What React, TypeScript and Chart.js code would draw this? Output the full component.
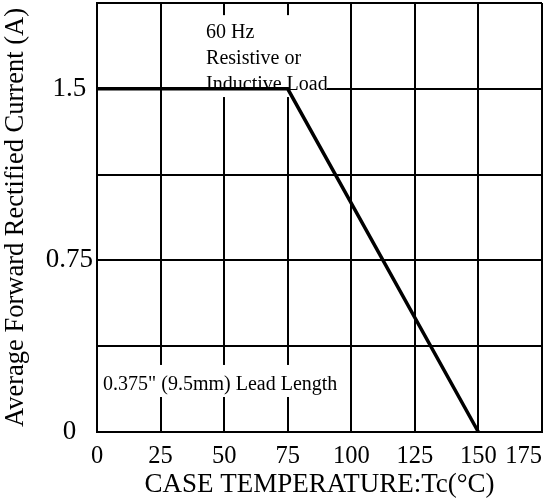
import React, { useEffect, useRef } from 'react';
import { Chart, registerables } from 'chart.js';

Chart.register(...registerables);

const FONT = '"Liberation Serif", "Times New Roman", Times, serif';

// data
const temperatures = [0, 75, 150];
const currents = [1.5, 1.5, 0];
const yLabelValues = [0, 0.75, 1.5];
const xTitle = 'CASE TEMPERATURE:Tc(°C)';
const yTitle = 'Average Forward Rectified Current (A)';
const noteTopLines = ['60 Hz', 'Resistive or', 'Inductive Load'];
const noteBottomLines = ['0.375" (9.5mm) Lead Length'];

// annotation placement (data units) — box: [xmin, xmax, ytop, ybottom], at: [x, firstBaseline]
const notes = [
  { lines: noteTopLines, box: [40.5, 90.4, 1.822, 1.464], at: [42.9, 1.722], lineHeight: 26 },
  { lines: noteBottomLines, box: [1.2, 98.3, 0.293, 0.153], at: [2.4, 0.184], lineHeight: 26 },
];

export default function App() {
  const ref = useRef<HTMLCanvasElement>(null);

  useEffect(() => {
    if (!ref.current) return;

    const notesPlugin = {
      id: 'notes',
      beforeDatasetsDraw(chart: any) {
        const { ctx } = chart;
        const x = chart.scales.x;
        const y = chart.scales.y;
        for (const n of notes) {
          const x0 = x.getPixelForValue(n.box[0]);
          const x1 = x.getPixelForValue(n.box[1]);
          const y0 = y.getPixelForValue(n.box[2]);
          const y1 = y.getPixelForValue(n.box[3]);
          ctx.save();
          ctx.fillStyle = '#ffffff';
          ctx.fillRect(x0, y0, x1 - x0, y1 - y0);
          ctx.fillStyle = '#000000';
          ctx.font = `20px ${FONT}`;
          ctx.textAlign = 'left';
          ctx.textBaseline = 'alphabetic';
          const tx = x.getPixelForValue(n.at[0]);
          const ty = y.getPixelForValue(n.at[1]);
          n.lines.forEach((l, i) => ctx.fillText(l, tx, ty + i * n.lineHeight));
          ctx.restore();
        }
      },
    };

    const lastLabelPlugin = {
      id: 'lastLabelAlign',
      beforeDraw(chart: any) {
        const sx = chart.scales.x;
        const items = sx.getLabelItems(chart.chartArea);
        const last = items[items.length - 1];
        if (last) last.options.textAlign = 'right';
      },
    };

    const chart = new Chart(ref.current, {
      type: 'line',
      data: {
        datasets: [
          {
            data: temperatures.map((t, i) => ({ x: t, y: currents[i] })),
            borderColor: '#000000',
            borderWidth: 3.5,
            pointRadius: 0,
            tension: 0,
            fill: false,
            borderJoinStyle: 'miter',
          },
        ],
      },
      options: {
        animation: false,
        responsive: true,
        maintainAspectRatio: false,
        layout: { padding: { top: 3, right: 13, left: 0, bottom: 0 } },
        plugins: {
          legend: { display: false },
          tooltip: { enabled: false },
        },
        scales: {
          x: {
            type: 'linear',
            min: 0,
            max: 175,
            ticks: {
              stepSize: 25,
              autoSkip: false,
              maxRotation: 0,
              color: '#000000',
              padding: 10,
              font: { family: FONT, size: 24.5 },
            },
            grid: { color: '#000000', lineWidth: 2, drawTicks: false },
            border: { display: true, color: '#000000', width: 2 },
            title: {
              display: true,
              text: xTitle,
              color: '#000000',
              font: { family: FONT, size: 27 },
              padding: { top: 0, bottom: 2 },
            },
            afterFit: (s: any) => {
              s.height = 71;
              s.paddingLeft = 0;
              s.paddingRight = 0;
            },
          },
          y: {
            type: 'linear',
            min: 0,
            max: 1.875,
            ticks: {
              stepSize: 0.375,
              autoSkip: false,
              color: '#000000',
              padding: 4,
              crossAlign: 'center',
              font: { family: FONT, size: 27 },
              callback: (v: any) => (yLabelValues.includes(Number(v)) ? String(v) : ''),
            },
            grid: { color: '#000000', lineWidth: 2, drawTicks: false },
            border: { display: true, color: '#000000', width: 2 },
            title: {
              display: true,
              text: yTitle,
              color: '#000000',
              font: { family: FONT, size: 26.5 },
              padding: 0,
            },
            afterFit: (s: any) => {
              s.width = 97;
              s.paddingTop = 0;
              s.paddingBottom = 0;
            },
          },
        },
      },
      plugins: [notesPlugin, lastLabelPlugin],
    } as any);

    return () => chart.destroy();
  }, []);

  return (
    <div style={{ position: 'fixed', left: 0, top: 0, width: 555, height: 503, background: '#fff' }}>
      <canvas ref={ref} />
    </div>
  );
}
